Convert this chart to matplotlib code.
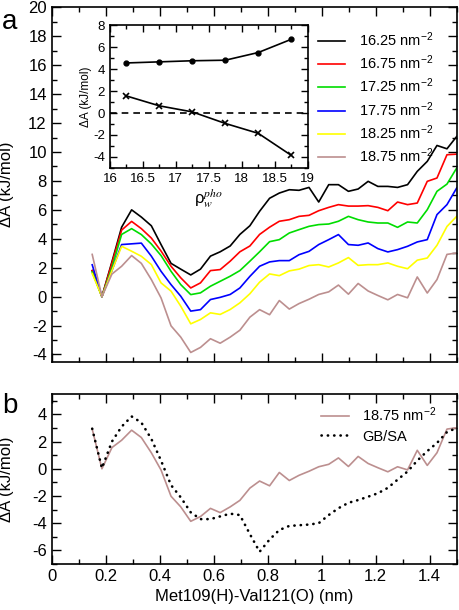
import matplotlib
matplotlib.use('Agg')
import matplotlib.pyplot as plt
from matplotlib.ticker import MultipleLocator, FormatStrFormatter

plt.rcParams['font.family'] = ['Liberation Sans', 'DejaVu Sans']
plt.rcParams['mathtext.fontset'] = 'custom'
plt.rcParams['mathtext.rm'] = 'Liberation Sans'
plt.rcParams['mathtext.it'] = 'Liberation Sans:italic'
plt.rcParams['mathtext.default'] = 'regular'
plt.rcParams['axes.unicode_minus'] = False

# Met109(H)-Val121(O) distance (nm)
dist = [0.150, 0.186, 0.223, 0.259, 0.296, 0.332, 0.369, 0.405, 0.442, 0.478,
        0.515, 0.551, 0.588, 0.624, 0.661, 0.697, 0.734, 0.770, 0.807, 0.843,
        0.880, 0.916, 0.953, 0.989, 1.026, 1.062, 1.099, 1.135, 1.172, 1.208,
        1.245, 1.281, 1.318, 1.354, 1.391, 1.427, 1.464, 1.500]

# free energy profiles (kJ/mol) per water density
dA_1625 = [1.8, 0.0, 2.4, 4.8, 6.0, 5.5, 4.9, 3.6, 2.3, 1.9, 1.5, 1.9, 2.8, 3.1, 3.5, 4.3, 4.9, 5.9, 6.8,
           7.16, 7.39, 7.35, 7.55, 6.54, 7.74, 7.74, 7.28, 7.44, 7.97, 7.62, 7.62, 7.55, 7.74, 8.66, 9.35, 10.45, 10.22, 11.07]
dA_1675 = [1.8, 0.0, 2.3, 4.6, 5.2, 4.7, 4.05, 3.15, 2.1, 1.3, 0.6, 0.95, 1.8, 1.87, 2.45, 3.1, 3.5, 4.3, 4.8,
           5.21, 5.32, 5.55, 5.62, 5.94, 6.17, 6.36, 6.26, 6.26, 6.29, 6.17, 5.94, 6.54, 6.36, 6.47, 7.97, 8.2, 9.81, 9.85]
dA_1725 = [1.7, 0.0, 2.0, 4.3, 4.7, 4.29, 3.64, 2.84, 1.75, 0.83, 0.14, 0.26, 0.72, 1.06, 1.41, 1.8, 2.45, 3.1, 3.8,
           3.94, 4.4, 4.63, 4.86, 4.98, 5.02, 5.21, 5.55, 5.32, 5.16, 5.09, 5.09, 4.79, 5.16, 5.09, 6.01, 7.28, 7.78, 8.89]
dA_1775 = [2.2, 0.0, 1.8, 3.6, 3.65, 3.7, 2.8, 1.75, 0.83, 0.03, -1.0, -0.9, -0.2, -0.05, 0.15, 0.6, 1.4, 2.1, 2.4,
           2.49, 2.49, 2.9, 3.13, 3.6, 3.94, 4.29, 3.6, 3.55, 3.71, 3.32, 3.09, 3.25, 3.48, 3.78, 3.94, 5.67, 6.36, 7.51]
dA_1825 = [1.6, 0.0, 1.8, 3.48, 3.14, 2.79, 2.22, 0.95, 0.38, -0.66, -1.88, -1.58, -1.12, -1.23, -0.89, -0.43, 0.2, 1.0, 1.57,
           1.45, 1.78, 1.9, 2.15, 2.21, 2.05, 2.33, 2.7, 2.16, 2.21, 2.21, 2.33, 2.1, 1.93, 2.52, 2.67, 3.55, 4.85, 5.55]
dA_1875 = [2.92, 0.0, 1.56, 2.1, 2.84, 2.3, 1.18, -0.09, -2.02, -2.8, -3.86, -3.51, -2.91, -3.22, -2.8, -2.32, -1.42, -0.9, -1.25,
           -0.27, -0.86, -0.48, -0.18, 0.15, 0.33, 0.8, 0.17, 0.91, 0.39, 0.08, -0.22, 0.15, -0.08, 1.36, 0.25, 1.18, 2.92, 3.02]
dA_gbsa = [2.95, 0.05, 2.0, 3.1, 3.85, 3.4, 2.2, 0.6, -1.2, -2.1, -3.2, -3.7, -3.7, -3.5, -3.3, -3.4, -4.8, -6.1, -5.2,
           -4.5, -4.2, -4.15, -4.1, -4.0, -3.4, -2.9, -2.5, -2.3, -2.05, -1.8, -1.4, -0.8, -0.2, 0.6, 1.3, 1.9, 2.7, 3.0]

labels = ['16.25 nm$^{-2}$', '16.75 nm$^{-2}$', '17.25 nm$^{-2}$',
          '17.75 nm$^{-2}$', '18.25 nm$^{-2}$', '18.75 nm$^{-2}$']
colors = ['black', '#ff0000', '#00dd00', '#0000ff', '#ffff00', '#bc8f8f']
profiles = [dA_1625, dA_1675, dA_1725, dA_1775, dA_1825, dA_1875]

# inset: free energy differences vs. rho_w^pho
rho = [16.25, 16.75, 17.25, 17.75, 18.25, 18.75]
dA_dots = [4.55, 4.65, 4.75, 4.8, 5.5, 6.7]
dA_cross = [1.55, 0.65, 0.1, -0.95, -1.85, -3.85]


def style_axes(ax, major, minor, size=12, big=6.5, small=3.5):
    ax.xaxis.set_major_locator(MultipleLocator(major[0]))
    ax.xaxis.set_minor_locator(MultipleLocator(minor[0]))
    ax.yaxis.set_major_locator(MultipleLocator(major[1]))
    ax.yaxis.set_minor_locator(MultipleLocator(minor[1]))
    ax.tick_params(which='both', direction='in', top=True, right=True, width=1.0, labelsize=size)
    ax.tick_params(which='major', length=big)
    ax.tick_params(which='minor', length=small)
    for s in ax.spines.values():
        s.set_linewidth(1.2)


fig = plt.figure(figsize=(4.6, 6.1), dpi=100)

# panel a
ax1 = fig.add_axes([0.1124, 0.407, 0.8804, 0.581])
for y, c, lab in zip(profiles, colors, labels):
    ax1.plot(dist, y, color=c, lw=1.2, label=lab)
ax1.set_xlim(0, 1.5)
ax1.set_ylim(-4.5, 20)
style_axes(ax1, (0.2, 2), (0.1, 1))
ax1.set_xticklabels([])
ax1.set_ylabel('ΔA (kJ/mol)', fontsize=12)
ax1.yaxis.set_label_coords(-0.093, 0.5)
ax1.legend(loc='upper left', bbox_to_anchor=(0.657, 0.935), frameon=False, fontsize=10.5,
           handlelength=1.9, handletextpad=0.9, labelspacing=0.32, borderpad=0, borderaxespad=0)
fig.text(0.005, 0.985, 'a', fontsize=20, va='top')

# inset
axi = fig.add_axes([0.239, 0.7246, 0.430, 0.2344])
axi.plot(rho, dA_dots, color='black', lw=1.2, marker='o', ms=3.5)
axi.plot(rho, dA_cross, color='black', lw=1.2, marker='x', ms=4.5, mew=1.2)
axi.axhline(0, color='black', lw=1.2, ls=(0, (4, 3)))
axi.set_xlim(16, 19)
axi.set_ylim(-5, 8)
style_axes(axi, (0.5, 2), (0.25, 1), size=9.5, big=5, small=3)
axi.xaxis.set_major_formatter(FormatStrFormatter('%g'))
axi.set_ylabel('ΔA (kJ/mol)', fontsize=8.5, labelpad=1)
axi.set_xlabel(r'$\rho_{\mathit{w}}^{\mathit{pho}}$', fontsize=12, math_fontfamily='stix', labelpad=1)

# panel b
ax2 = fig.add_axes([0.1124, 0.0754, 0.8804, 0.2787])
ax2.plot(dist, dA_1875, color='#bc8f8f', lw=1.2, label='18.75 nm$^{-2}$')
ax2.plot(dist, dA_gbsa, color='black', lw=1.9, ls=(0, (0.1, 2.3)), dash_capstyle='round', label='GB/SA')
ax2.set_xlim(0, 1.5)
ax2.set_ylim(-7, 5.5)
style_axes(ax2, (0.2, 2), (0.1, 1))
ax2.set_xticks([0, 0.2, 0.4, 0.6, 0.8, 1.0, 1.2, 1.4])
ax2.set_xticklabels(['0', '0.2', '0.4', '0.6', '0.8', '1', '1.2', '1.4'])
ax2.set_ylabel('ΔA (kJ/mol)', fontsize=12)
ax2.yaxis.set_label_coords(-0.093, 0.5)
ax2.set_xlabel('Met109(H)-Val121(O) (nm)', fontsize=12)
ax2.legend(loc='upper left', bbox_to_anchor=(0.665, 0.93), frameon=False, fontsize=10.5,
           handlelength=1.9, handletextpad=0.9, labelspacing=0.35, borderpad=0, borderaxespad=0)
fig.text(0.005, 0.355, 'b', fontsize=20, va='top')

fig.savefig('out.png', dpi=100)
